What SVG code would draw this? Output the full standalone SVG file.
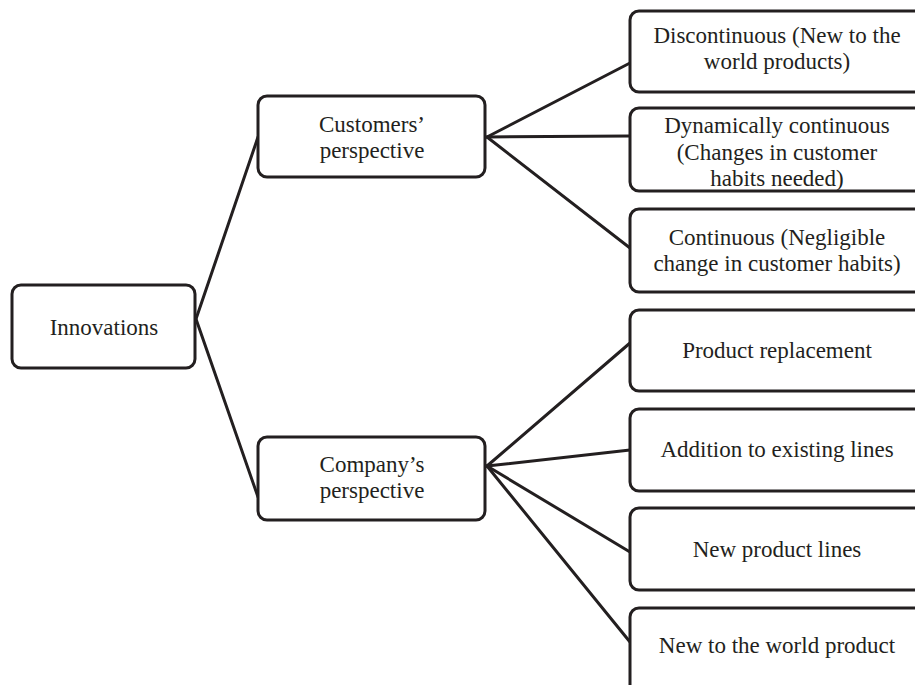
<svg xmlns="http://www.w3.org/2000/svg" width="915" height="685" viewBox="0 0 915 685">
<style>
.box{fill:#fff;stroke:#231f20;stroke-width:3}
.t{font-family:"Liberation Serif","Times New Roman",serif;font-size:23px;fill:#231f20;text-anchor:middle}
.c{stroke:#231f20;stroke-width:3;fill:none;stroke-linecap:round}
</style>
<rect width="915" height="685" fill="#fff"/>
<g id="connectors">
<line class="c" x1="196" y1="319" x2="258" y2="137"/>
<line class="c" x1="196" y1="319" x2="258" y2="497"/>
<line class="c" x1="487" y1="137" x2="630" y2="63"/>
<line class="c" x1="487" y1="137" x2="630" y2="136"/>
<line class="c" x1="487" y1="137" x2="630" y2="248"/>
<line class="c" x1="487" y1="466" x2="630" y2="343"/>
<line class="c" x1="487" y1="466" x2="630" y2="450"/>
<line class="c" x1="487" y1="466" x2="630" y2="552"/>
<line class="c" x1="487" y1="466" x2="630" y2="642"/>
</g>
<g id="innovations">
<rect class="box" x="12" y="285" width="183" height="83" rx="9"/>
<text class="t" x="104" y="335">Innovations</text>
</g>
<g id="customers">
<rect class="box" x="258" y="96" width="227" height="81" rx="9"/>
<text class="t" x="372" y="132">Customers’</text>
<text class="t" x="372" y="158">perspective</text>
</g>
<g id="company">
<rect class="box" x="258" y="437" width="227" height="83" rx="9"/>
<text class="t" x="372" y="472">Company’s</text>
<text class="t" x="372" y="498">perspective</text>
</g>
<g id="discontinuous">
<rect class="box" x="630" y="11" width="300" height="81" rx="9"/>
<text class="t" x="777" y="43">Discontinuous (New to the</text>
<text class="t" x="777" y="69">world products)</text>
</g>
<g id="dynamically">
<rect class="box" x="630" y="108" width="300" height="83" rx="9"/>
<text class="t" x="777" y="133">Dynamically continuous</text>
<text class="t" x="777" y="160">(Changes in customer</text>
<text class="t" x="777" y="186">habits needed)</text>
</g>
<g id="continuous">
<rect class="box" x="630" y="209" width="300" height="83" rx="9"/>
<text class="t" x="777" y="245">Continuous (Negligible</text>
<text class="t" x="777" y="271">change in customer habits)</text>
</g>
<g id="replacement">
<rect class="box" x="630" y="310" width="300" height="81" rx="9"/>
<text class="t" x="777" y="358">Product replacement</text>
</g>
<g id="addition">
<rect class="box" x="630" y="409" width="300" height="82" rx="9"/>
<text class="t" x="777" y="457">Addition to existing lines</text>
</g>
<g id="newlines">
<rect class="box" x="630" y="508" width="300" height="82" rx="9"/>
<text class="t" x="777" y="557">New product lines</text>
</g>
<g id="newworld">
<rect class="box" x="630" y="608" width="300" height="100" rx="9"/>
<text class="t" x="777" y="653">New to the world product</text>
</g>
</svg>
